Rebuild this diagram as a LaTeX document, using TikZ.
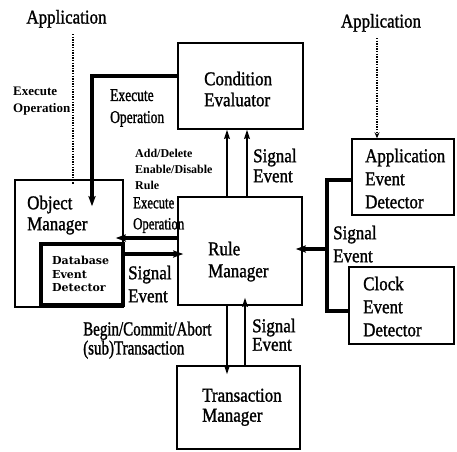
\documentclass[tikz,border=0pt]{standalone}
\usepackage{fontspec}
\setmainfont{Liberation Serif}
% narrow, tall, heavy faces for the labels
\newfontfamily\labelface[FakeStretch=0.87,FakeBold=1.3]{Liberation Serif}
\newfontfamily\condface[FakeStretch=0.75,FakeBold=1.3]{Liberation Serif}
\newfontfamily\detface{DejaVu Serif}
\usetikzlibrary{arrows.meta}

\begin{document}
\begin{tikzpicture}[x=1pt,y=-1pt,
  box/.style={draw, line width=1.4pt, inner sep=0pt},
  heavybox/.style={draw, line width=3.4pt, inner sep=0pt},
  lab/.style={inner sep=0pt, align=left, anchor=north west},
  mainlab/.style={lab, font=\labelface\fontsize{19.5}{#1}\selectfont},
  mainlab/.default=21,
  bus/.style={line width=3.2pt},
  bigtip/.style={-{Stealth[length=10pt,width=7pt,inset=1.5pt]}},
  vert/.style={line width=2.4pt, -{Stealth[length=9pt,width=5.5pt,inset=1pt]}},
  dotline/.style={line width=1.3pt, dash pattern=on 1.3pt off 1.3pt}
]
\useasboundingbox (0,0) rectangle (457,451);

% ---- boxes ----
\node[box, minimum width=125pt, minimum height=86pt]  (ce)  at (240.5,86)  {};
\node[box, minimum width=108pt, minimum height=127pt] (om)  at (69,243.5)  {};
\node[heavybox, minimum width=82pt, minimum height=61pt] (db) at (82,274.5) {};
\node[box, minimum width=124pt, minimum height=108pt] (rm)  at (240,251)   {};
\node[box, minimum width=102pt, minimum height=76pt]  (aed) at (403,177)   {};
\node[box, minimum width=105pt, minimum height=77pt]  (clk) at (401.5,305.5) {};
\node[box, minimum width=123pt, minimum height=83pt]  (tm)  at (238.5,407.5) {};

% ---- box texts ----
\node[mainlab=21] (ceT)  at (204,71.5)  {Condition\\Evaluator};
\node[mainlab=21] (omT)  at (27,195.5)  {Object\\Manager};
\node[lab, font=\detface\bfseries\fontsize{11}{13.5}\selectfont] (dbT) at (52,256) {Database\\Event\\Detector};
\node[mainlab=22] (rmT)  at (208,241.5) {Rule\\Manager};
\node[mainlab=23] (aedT) at (365,148.5) {Application\\Event\\Detector};
\node[mainlab=23] (clkT) at (363,276.5) {Clock\\Event\\Detector};
\node[mainlab=20] (tmT)  at (202,388.5) {Transaction\\Manager};

% ---- sources at the top ----
\node[mainlab, anchor=base] (appL) at (66.5,23.5) {Application};
\node[mainlab, anchor=base] (appR) at (381,27.5)  {Application};

% ---- connector labels ----
\node[lab, font=\bfseries\fontsize{13}{17}\selectfont] (execL) at (13,86.6) {Execute\\Operation};
\node[lab, font=\condface\fontsize{18}{22}\selectfont] (execT) at (110,89) {Execute\\Operation};
\node[lab, font=\bfseries\fontsize{12}{16}\selectfont] (adddel) at (135,149) {Add/Delete\\Enable/Disable\\Rule};
\node[lab, font=\condface\fontsize{17}{21}\selectfont] (execR) at (133,197) {Execute\\Operation};
\node[mainlab=20] (sigA) at (253,148.5) {Signal\\Event};
\node[mainlab=23] (sigB) at (128,265.5) {Signal\\Event};
\node[mainlab=23] (sigC) at (333,225.5) {Signal\\Event};
\node[mainlab=18.5] (sigD) at (252,318.5) {Signal\\Event};
\node[lab, font=\condface\fontsize{20}{19}\selectfont] (txn) at (83,321.4) {Begin/Commit/Abort\\(sub)Transaction};

% ---- helper points ----
\coordinate (dotL) at (73,34);
\coordinate (dotR) at (377,38);
\coordinate (busJ) at (327,249);

% ---- dotted inputs from the applications ----
\draw[dotline] (dotL) -- (dotL |- om.north) -- ++(0,5);
\draw[dotline, -{Stealth[length=6pt,width=5pt]}] (dotR) -- (dotR |- aed.north);

% ---- condition evaluator -> object manager ----
\draw[bus, bigtip] ([yshift=10pt]ce.west) -| ([xshift=23pt,yshift=-27pt]om.north);

% ---- rule manager -> condition evaluator ----
\draw[vert] ([xshift=-13pt]rm.north) -- ([xshift=-13.5pt]ce.south);
\draw[vert] ([xshift=7pt]rm.north)   -- ([xshift=6.5pt]ce.south);

% ---- rule manager <-> object manager ----
\draw[bus, bigtip] ([yshift=13pt]rm.west) -- ([xshift=-8pt,yshift=5.5pt]om.east);
\draw[bus, bigtip] ([yshift=20.5pt]db.east) -- ([xshift=6pt,yshift=-3pt]rm.west);

% ---- event detectors -> rule manager ----
\draw[bus] ([yshift=-3pt]aed.west) -| (busJ) |- ([yshift=-5.5pt]clk.west);
\draw[bus, bigtip] (busJ) -- ([xshift=-7pt,yshift=2pt]rm.east);

% ---- rule manager <-> transaction manager ----
\draw[vert] ([xshift=-13pt]rm.south) -- ([xshift=-11.5pt,yshift=-9pt]tm.north);
\draw[vert] ([xshift=6.5pt]tm.north) -- ([xshift=5pt,yshift=8pt]rm.south);
\end{tikzpicture}
\end{document}
